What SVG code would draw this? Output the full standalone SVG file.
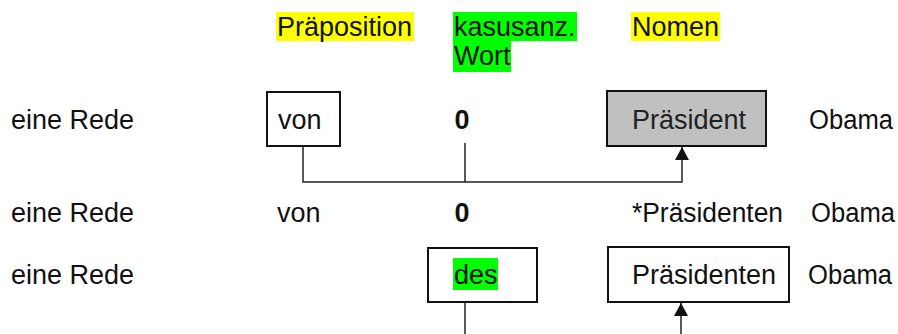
<svg xmlns="http://www.w3.org/2000/svg" width="898" height="334" viewBox="0 0 898 334">
<style>
text{font-family:"Liberation Sans",Arial,sans-serif;font-size:27px;fill:#111}
.b{font-weight:bold}
.box{fill:#fff;stroke:#111;stroke-width:2}
.gray{fill:#c0c0c0}
.conn{fill:none;stroke:#222;stroke-width:1.5}
.hy{fill:#ffff00}
.hg{fill:#00ff00}
</style>
<defs>
<marker id="arr" markerUnits="userSpaceOnUse" markerWidth="14" markerHeight="14" viewBox="0 0 14 14" refX="13" refY="7" orient="auto">
<path d="M0,0 L13,7 L0,14 Z" fill="#111"/>
</marker>
</defs>
<g id="headers">
<rect class="hy" x="276" y="12" width="138" height="29"/>
<text x="277" y="36">Präposition</text>
<rect class="hg" x="453" y="12" width="124" height="29"/>
<rect class="hg" x="453" y="41" width="58" height="31"/>
<text x="454" y="36">kasusanz.</text>
<text x="454" y="65">Wort</text>
<rect class="hy" x="631" y="12" width="89" height="29"/>
<text x="632" y="36">Nomen</text>
</g>
<g id="row1">
<text x="11" y="129">eine Rede</text>
<g id="von1"><rect class="box" x="267" y="92" width="73" height="54"/><text x="278" y="129">von</text></g>
<g id="zero1"><text class="b" x="462" y="129" text-anchor="middle">0</text></g>
<g id="praesident1"><rect class="box gray" x="607" y="91" width="159" height="55"/><text x="632" y="129" style="fill:#222">Präsident</text></g>
<text x="809" y="129" textLength="84" lengthAdjust="spacingAndGlyphs">Obama</text>
</g>
<g id="row2">
<text x="11" y="222">eine Rede</text>
<text x="277" y="222">von</text>
<text class="b" x="462" y="222" text-anchor="middle">0</text>
<text x="632" y="222" textLength="151" lengthAdjust="spacingAndGlyphs">*Präsidenten</text>
<text x="811" y="222" textLength="84" lengthAdjust="spacingAndGlyphs">Obama</text>
</g>
<g id="row3">
<text x="11" y="284">eine Rede</text>
<g id="des3"><rect class="box" x="428" y="248" width="109" height="54"/><rect class="hg" x="453" y="258" width="45" height="32"/><text x="454" y="284">des</text></g>
<g id="praesidenten3"><rect class="box" x="608" y="247" width="181" height="55"/><text x="632" y="284">Präsidenten</text></g>
<text x="808" y="284" textLength="84" lengthAdjust="spacingAndGlyphs">Obama</text>
</g>
<g id="connectors">
<path class="conn" d="M303,146 V182 H682 V147" marker-end="url(#arr)"/>
<path class="conn" d="M465,143 V182"/>
<path class="conn" d="M465,302 V334"/>
<path class="conn" d="M681,334 V303" marker-end="url(#arr)"/>
</g>
</svg>
